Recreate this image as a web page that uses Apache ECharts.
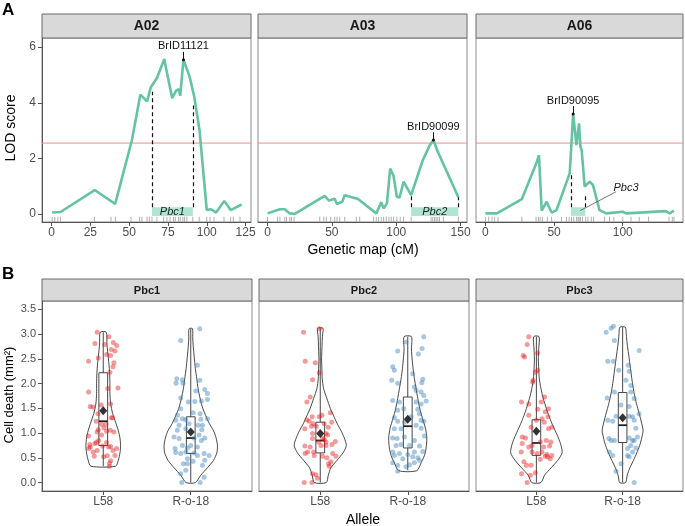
<!DOCTYPE html>
<html><head><meta charset="utf-8">
<script src="https://cdn.jsdelivr.net/npm/echarts@6/dist/echarts.min.js"></script>
<style>html,body{margin:0;padding:0;background:#fff}#c{width:685px;height:526px}</style>
</head><body><div id="c"></div>
<script>
// ---------- Panel A data ----------
const chromosomes = ['A02', 'A03', 'A06'];
const lodA02 = [[0.4,0.05],[5.8,0.07],[27.8,0.86],[41,0.36],[51.8,2.66],[57.2,4.29],[61.5,4.05],[64,4.56],[67.9,4.89],[72.6,5.57],[77.7,4.17],[80.3,4.44],[82,4.49],[82.9,4.25],[85,5.55],[88.9,4.95],[91.9,4.23],[95.3,3.03],[100,0.14],[102.6,0.17],[106,0.05],[111.3,0.47],[115.4,0.14],[122.5,0.34]];
const lodA03 = [[0,0.02],[9.6,0.17],[13.4,0.17],[17.3,0.02],[21.2,0],[44.4,0.65],[47.8,0.48],[52.2,0.55],[54,0.36],[58.1,0.44],[59.9,0.67],[70.3,0.54],[84.5,0.02],[88.4,0.42],[90.2,0.2],[92.8,0.38],[95.3,1.63],[97.9,1.37],[100.5,0.62],[102.6,0.59],[105.7,1.16],[111.6,0.68],[120.7,1.94],[125.8,2.45],[128.9,2.66],[132.3,2.24],[148.3,0.6]];
const lodA06 = [[0,0.02],[8.4,0.02],[26.5,0.53],[37.3,1.85],[39,2.12],[41,0.12],[44.6,0.44],[48.2,0.05],[51.8,0.14],[61.4,1.46],[63.9,3.6],[66.3,2.48],[68.2,3.26],[69.2,2.42],[70.1,2.3],[72.3,0.98],[75.9,1.16],[78.3,1.04],[83.1,0.14],[88,0.02],[100,0.08],[102.4,0.02],[131.3,0.1],[134.2,0.02],[137.3,0.12]];
const rugA02 = [0.4,2.1,4.1,5.8,27.6,38.3,41.1,51.2,56.7,58.2,61.5,63,64.7,67.9,72.2,74.3,76.4,78.6,79.7,81.8,82.9,84.6,85.7,87.2,91,95.1,100,102.1,104.7,111.1,115.4,117.1,121.4];
const rugA03 = [0,7.8,9.6,13.4,14.7,17.3,18.6,20.7,40.6,43.7,45.7,49.1,52.2,54,56.1,60,69,71.6,82.4,84.5,86.3,88.4,90.2,92.2,94.3,96.1,97.9,100.5,103.1,105.7,111.6,127.1,128.4,129.7,131,132.3,133.6,136.7,148.3];
const rugA06 = [0,2.4,4.8,6.7,9.2,26.5,36.9,38.6,39.8,41.4,45.1,48.2,55.4,59,61,62.7,64.3,66.3,67.5,68.2,69.2,70.6,73,74.7,77.1,78.8,86.7,90.4,93.5,100,106,112,118.8,133.7,136.1,137.3];
const lodThreshold = 2.55;
const peakNames = ['BrID11121', 'BrID90099', 'BrID90095'];
const peakPos = [[85, 5.55], [128.9, 2.66], [63.9, 3.6]];
const qtlNames = ['Pbc1', 'Pbc2', 'Pbc3'];
const qtlStart = [64.7, 111.6, 62.2];
const qtlEnd = [91, 148.3, 72.8];
const qtlStartLod = [4.4, 0.68, 1.5];
const qtlEndLod = [3.9, 0.6, 0.7];
const xMaxA = [128.5, 155, 143.9];
const xMinA = [-6.15, -7.4, -6.85];
const xTicksA = [[0,25,50,75,100,125],[0,50,100,150],[0,50,100]];
const yTicksA = [0,2,4,6];

// ---------- Panel B data ----------
const alleles = ['L58', 'R-o-18'];
const yTicksB = [0,0.5,1,1.5,2,2.5,3,3.5];
// jittered points [x position, cell death]
const ptsPbc1L = [[0.931,3.04],[1.065,2.95],[0.905,2.81],[1.015,2.79],[1.115,2.83],[1.153,2.77],[1.092,2.69],[1.134,2.66],[0.943,2.52],[1.084,2.57],[1.038,2.59],[0.832,2.45],[1.122,2.42],[1.111,2.34],[1.076,2.23],[1.053,1.90],[0.832,1.83],[1.168,1.91],[0.882,1.53],[0.977,1.57],[0.851,1.54],[1.084,1.59],[0.939,1.39],[0.920,1.24],[1.092,1.31],[1.107,1.31],[0.981,1.18],[1.008,1.11],[0.943,1.07],[1.031,1.18],[0.931,1.02],[1.038,1.04],[1.080,1.06],[0.832,0.94],[0.981,0.96],[1.122,1.02],[0.947,0.85],[0.851,0.72],[0.836,0.69],[0.847,0.77],[0.905,0.79],[0.920,0.81],[1.038,0.81],[1.061,0.72],[1.084,0.73],[0.992,0.74],[0.931,0.65],[1.111,0.65],[1.153,0.69],[1.046,0.54],[1.134,0.55],[0.897,0.53],[1.084,0.44],[1.073,0.39],[1.069,0.33],[1.004,0.52],[0.885,0.62]];
const ptsPbc1R = [[1.885,2.87],[2.103,3.11],[2.076,2.37],[1.840,2.10],[1.905,2.08],[1.832,2.01],[1.912,2.01],[2.103,2.07],[1.885,1.71],[2.160,1.88],[2.191,1.80],[2.057,1.85],[2.191,1.68],[2.122,1.65],[2.046,1.64],[1.973,1.63],[2.107,1.39],[1.847,1.36],[2.027,1.41],[2.191,1.29],[1.828,1.26],[1.905,1.29],[1.943,1.27],[2.115,1.28],[1.866,1.16],[2.084,1.16],[2.134,1.16],[1.847,1.06],[1.943,1.09],[2.126,1.07],[1.809,0.92],[1.866,0.89],[2.038,0.90],[2.160,0.90],[2.122,0.85],[1.905,0.75],[1.962,0.70],[2.076,0.72],[1.821,0.69],[1.828,0.61],[1.885,0.59],[1.943,0.62],[2.038,0.60],[2.153,0.59],[2.210,0.55],[2.076,0.55],[1.962,0.48],[1.916,0.38],[1.962,0.38],[2.134,0.35],[2.160,0.45],[1.885,0.18],[1.943,0.25],[2.153,0.11],[1.897,0.00],[2.107,0.00],[2.027,0.43],[2.000,0.75],[2.095,0.96],[1.981,1.19],[1.885,1.49]];
const ptsPbc2L = [[0.809,3.04],[0.992,3.11],[0.828,2.45],[0.943,2.42],[0.989,2.22],[0.912,2.08],[0.885,1.73],[0.847,1.63],[0.908,1.33],[0.989,1.33],[1.019,1.36],[1.115,1.41],[0.920,1.19],[0.847,1.27],[0.874,1.24],[1.130,1.22],[0.824,1.09],[0.901,1.14],[0.954,1.14],[1.046,1.19],[1.092,1.12],[0.912,0.99],[1.065,0.99],[1.084,0.96],[0.912,0.89],[1.027,0.90],[1.046,0.87],[0.981,0.82],[1.065,0.82],[1.172,0.83],[0.824,0.74],[0.885,0.72],[1.065,0.75],[1.134,0.77],[0.828,0.59],[0.855,0.62],[0.924,0.62],[1.141,0.59],[1.179,0.53],[1.027,0.53],[0.931,0.55],[1.122,0.42],[1.095,0.38],[1.103,0.33],[0.912,0.18],[0.950,0.16],[0.969,0.09],[0.817,0.00],[0.905,0.00],[1.076,0.50],[1.008,0.75]];
const ptsPbc2R = [[2.183,2.95],[1.981,2.84],[2.164,2.71],[2.122,2.60],[1.885,2.66],[1.828,2.34],[1.847,2.27],[2.057,2.20],[1.817,2.07],[1.885,2.01],[2.172,2.09],[2.160,2.02],[2.076,1.93],[2.095,1.86],[2.153,1.83],[2.183,1.76],[1.828,1.66],[1.905,1.63],[2.095,1.63],[2.153,1.59],[2.210,1.65],[1.885,1.46],[1.954,1.49],[2.115,1.48],[2.134,1.39],[1.847,1.31],[2.038,1.33],[2.183,1.24],[2.153,1.26],[1.885,1.24],[1.962,1.22],[2.095,1.16],[1.847,1.09],[1.924,1.09],[2.153,1.10],[1.828,0.90],[1.878,0.89],[1.962,0.92],[2.076,0.85],[2.191,0.94],[1.866,0.75],[1.924,0.77],[2.019,0.75],[2.134,0.74],[1.828,0.62],[1.905,0.59],[2.000,0.57],[2.076,0.62],[2.172,0.63],[1.847,0.55],[1.943,0.48],[2.057,0.52],[2.115,0.50],[1.828,0.40],[1.885,0.35],[1.981,0.32],[2.076,0.40],[2.134,0.45],[1.885,0.23],[2.019,0.36]];
const ptsPbc3L = [[0.912,2.95],[0.893,2.79],[0.847,2.57],[0.863,2.54],[1.015,2.62],[1.015,2.27],[0.989,2.23],[0.962,2.07],[0.958,2.03],[0.828,1.63],[0.912,1.59],[1.095,1.73],[1.057,1.63],[1.015,1.48],[1.141,1.49],[1.103,1.43],[0.912,1.36],[1.000,1.26],[1.065,1.29],[1.134,1.33],[1.092,1.22],[1.179,1.12],[1.141,1.09],[0.939,1.12],[0.836,0.92],[0.874,0.90],[0.836,0.79],[1.046,0.82],[1.115,0.85],[1.168,0.82],[0.950,0.75],[0.912,0.72],[1.084,0.72],[1.153,0.74],[0.824,0.62],[0.950,0.62],[1.008,0.59],[1.065,0.62],[1.122,0.57],[1.179,0.55],[0.855,0.42],[0.885,0.35],[0.939,0.35],[1.046,0.47],[1.130,0.52],[1.160,0.48],[0.828,0.18],[0.931,0.15],[0.989,0.20],[0.893,0.00],[1.103,0.53]];
const ptsPbc3R = [[1.809,3.04],[1.866,3.12],[1.893,3.16],[1.905,2.87],[2.191,2.67],[1.828,2.45],[1.893,2.45],[2.065,2.37],[1.954,2.27],[2.076,2.25],[2.038,2.07],[2.095,1.96],[1.905,1.83],[1.821,1.71],[2.095,1.83],[2.134,1.70],[1.981,1.57],[2.076,1.54],[2.191,1.39],[1.924,1.34],[2.076,1.34],[2.115,1.33],[2.134,1.26],[1.828,1.26],[1.885,1.24],[2.153,1.10],[1.840,0.89],[1.866,0.85],[1.905,0.85],[2.076,0.90],[2.115,0.85],[2.134,0.85],[2.172,0.92],[1.847,0.62],[1.885,0.55],[2.057,0.55],[2.076,0.52],[2.115,0.62],[2.153,0.70],[2.095,0.75],[1.981,0.38],[1.924,0.23],[2.134,0.00],[2.057,0.69]];
// violin density outline: [cell death, half width]
const vioPbc1L = [[0.33,0.141],[0.45,0.172],[0.6,0.191],[0.75,0.198],[0.9,0.191],[1.05,0.172],[1.2,0.145],[1.4,0.107],[1.6,0.084],[1.8,0.076],[2.0,0.076],[2.2,0.073],[2.4,0.065],[2.6,0.053],[2.8,0.042],[3.04,0.034]];
const vioPbc1R = [[0,0.053],[0.15,0.115],[0.3,0.191],[0.45,0.26],[0.6,0.298],[0.75,0.305],[0.9,0.29],[1.05,0.26],[1.2,0.21],[1.35,0.172],[1.5,0.137],[1.7,0.107],[1.9,0.084],[2.1,0.069],[2.3,0.053],[2.5,0.042],[2.7,0.031],[2.9,0.023],[3.11,0.019]];
const vioPbc2L = [[0,0.069],[0.15,0.092],[0.3,0.122],[0.45,0.191],[0.6,0.26],[0.75,0.298],[0.9,0.275],[1.05,0.237],[1.2,0.191],[1.35,0.153],[1.5,0.115],[1.7,0.076],[1.9,0.038],[2.1,0.023],[2.3,0.019],[2.5,0.015],[2.7,0.019],[2.9,0.023],[3.0,0.027],[3.12,0.031]];
const vioPbc2R = [[0.24,0.103],[0.4,0.153],[0.55,0.191],[0.7,0.21],[0.9,0.218],[1.1,0.202],[1.3,0.168],[1.5,0.137],[1.7,0.115],[1.9,0.095],[2.1,0.076],[2.3,0.061],[2.5,0.05],[2.7,0.042],[2.95,0.042]];
const vioPbc3L = [[0,0.053],[0.15,0.095],[0.3,0.172],[0.45,0.248],[0.6,0.298],[0.75,0.286],[0.9,0.256],[1.05,0.218],[1.2,0.179],[1.35,0.145],[1.5,0.115],[1.7,0.08],[1.9,0.053],[2.1,0.034],[2.3,0.027],[2.5,0.023],[2.7,0.027],[2.95,0.031]];
const vioPbc3R = [[0,0.034],[0.15,0.053],[0.3,0.084],[0.45,0.126],[0.6,0.164],[0.75,0.198],[0.9,0.221],[1.05,0.237],[1.2,0.221],[1.4,0.191],[1.6,0.16],[1.8,0.134],[2.0,0.115],[2.2,0.099],[2.4,0.084],[2.6,0.069],[2.8,0.053],[3.0,0.042],[3.14,0.031]];
// box stats [min, q1, median, q3, max], means
const boxPbc1 = [[0.33,0.75,1.24,2.22,3.04],[0,0.59,0.90,1.33,3.11]];
const boxPbc2 = [[0,0.60,0.85,1.22,3.12],[0.25,0.70,1.14,1.73,2.95]];
const boxPbc3 = [[0,0.55,0.80,1.27,2.95],[0,0.81,1.16,1.82,3.14]];
const meanPbc1 = [1.45, 1.02];
const meanPbc2 = [0.99, 1.28];
const meanPbc3 = [1.04, 1.31];

// ---------- build ----------
const lods = [lodA02, lodA03, lodA06];
const rugs = [rugA02, rugA03, rugA06];
const pts = [[ptsPbc1L, ptsPbc1R], [ptsPbc2L, ptsPbc2R], [ptsPbc3L, ptsPbc3R]];
const vios = [[vioPbc1L, vioPbc1R], [vioPbc2L, vioPbc2R], [vioPbc3L, vioPbc3R]];
const boxes = [boxPbc1, boxPbc2, boxPbc3];
const means = [meanPbc1, meanPbc2, meanPbc3];

const FONT = '"Liberation Sans", Arial, sans-serif';
const LINE = '#66C2A5';
const topL = [42, 258, 476], topW = [209, 209, 207];
const botL = [42, 259, 476], botW = [210, 210, 207];

const grid = [], xAxis = [], yAxis = [], series = [], graphic = [];
for (let i = 0; i < 3; i++) {
  grid.push({left: topL[i], top: 38, width: topW[i], height: 184, show: true, borderColor: '#8a8a8a', borderWidth: 1, containLabel: false});
}
for (let i = 0; i < 3; i++) {
  grid.push({left: botL[i], top: 301, width: botW[i], height: 190, show: true, borderColor: '#8a8a8a', borderWidth: 1, containLabel: false});
}
const axLabel = (sz) => ({color: '#4D4D4D', fontSize: sz, fontFamily: FONT});
for (let i = 0; i < 3; i++) {
  xAxis.push({type: 'value', gridIndex: i, min: xMinA[i], max: xMaxA[i],
    axisLine: {show: true, onZero: false, lineStyle: {color: '#555', width: 1}},
    axisTick: {show: true, length: 4, lineStyle: {color: '#555'}, customValues: xTicksA[i]},
    axisLabel: Object.assign(axLabel(12), {margin: 5, customValues: xTicksA[i]}),
    splitLine: {show: false}});
  yAxis.push({type: 'value', gridIndex: i, min: -0.29, max: 6.33,
    axisLine: {show: i === 0, onZero: false, lineStyle: {color: '#555', width: 1}},
    axisTick: {show: i === 0, length: 4, lineStyle: {color: '#555'}, customValues: yTicksA},
    axisLabel: Object.assign(axLabel(12), {show: i === 0, margin: 6, customValues: yTicksA}),
    splitLine: {show: false}});
}
for (let j = 0; j < 3; j++) {
  xAxis.push({type: 'value', gridIndex: 3 + j, min: 0.3, max: 2.7,
    axisLine: {show: true, onZero: false, lineStyle: {color: '#555', width: 1}},
    axisTick: {show: true, length: 4, lineStyle: {color: '#555'}, customValues: [1, 2]},
    axisLabel: Object.assign(axLabel(12), {margin: 5, customValues: [1, 2], formatter: v => alleles[Math.round(v) - 1]}),
    splitLine: {show: false}});
  yAxis.push({type: 'value', gridIndex: 3 + j, min: -0.17, max: 3.67,
    axisLine: {show: j === 0, onZero: false, lineStyle: {color: '#555', width: 1}},
    axisTick: {show: j === 0, length: 4, lineStyle: {color: '#555'}, customValues: yTicksB},
    axisLabel: Object.assign(axLabel(11), {show: j === 0, margin: 6, customValues: yTicksB, formatter: v => v.toFixed(1)}),
    splitLine: {show: false}});
}

// Panel A series
for (let i = 0; i < 3; i++) {
  // LOD significance threshold, spanning the panel
  series.push({
    type: 'line', xAxisIndex: i, yAxisIndex: i, data: [[xMinA[i], lodThreshold], [xMaxA[i], lodThreshold]],
    symbol: 'none', silent: true, animation: false, z: 4,
    lineStyle: {color: '#F08C86', width: 1, type: 'solid'}, itemStyle: {color: '#F08C86'}
  });
  const dashStyle = {color: '#111', type: [4, 3], width: 1.2};
  const ml = [
    [{coord: [qtlStart[i], 0.24], lineStyle: dashStyle, label: {show: false}}, {coord: [qtlStart[i], qtlStartLod[i]]}],
    [{coord: [qtlEnd[i], 0.24], lineStyle: dashStyle, label: {show: false}}, {coord: [qtlEnd[i], qtlEndLod[i]]}],
    [{coord: peakPos[i], symbol: 'circle', symbolSize: 3, lineStyle: {color: '#111', width: 1, type: 'solid'},
      label: {show: true, position: 'end', formatter: peakNames[i], color: '#111', fontSize: 11, fontFamily: FONT, distance: 0}},
     {coord: [peakPos[i][0], peakPos[i][1] + 0.28], symbol: 'none'}]
  ];
  const markPoint = {data: []};
  if (i === 2) {
    ml.push([{coord: [(qtlStart[i] + qtlEnd[i]) / 2 + 1.5, 0.12], lineStyle: {color: '#555', width: 0.8, type: 'solid'}, label: {show: false}},
             {coord: [95.2, 0.8]}]);
    markPoint.data.push({coord: [102.4, 0.93], symbol: 'circle', symbolSize: 0,
      label: {show: true, position: 'inside', formatter: qtlNames[i], fontStyle: 'italic', fontSize: 11, color: '#222', fontFamily: FONT}});
  }
  series.push({
    type: 'line', xAxisIndex: i, yAxisIndex: i, data: lods[i], symbol: 'none', z: 5,
    lineStyle: {color: LINE, width: 2.6}, itemStyle: {color: '#111'}, silent: true, animation: false,
    markLine: {silent: true, symbol: ['none', 'none'], animation: false, data: ml, z: 6,
      lineStyle: {color: '#111'}, emphasis: {disabled: true}},
    markArea: {silent: true, animation: false, data: [[
      {coord: [qtlStart[i], -0.07], itemStyle: {color: 'rgba(150,220,195,0.75)'},
       label: {show: i !== 2, position: 'inside', formatter: qtlNames[i], fontStyle: 'italic', fontSize: 11, color: '#222', fontFamily: FONT}},
      {coord: [qtlEnd[i], 0.24]}]]},
    markPoint: Object.assign(markPoint, {silent: true, animation: false})
  });
  series.push({
    type: 'scatter', xAxisIndex: i, yAxisIndex: i, data: rugs[i].map(x => [x, -0.19]),
    symbol: 'rect', symbolSize: [1, 5], itemStyle: {color: '#9a9a9a'}, silent: true, animation: false, z: 2
  });
}

// Panel B series
const PTCOL = ['rgba(228,26,28,0.55)', 'rgba(55,126,184,0.55)'];
for (let j = 0; j < 3; j++) {
  const ax = 3 + j;
  series.push({
    type: 'custom', xAxisIndex: ax, yAxisIndex: ax, data: [[1, 1], [2, 1]], silent: true, animation: false, z: 1,
    renderItem: (params, api) => {
      const g = params.dataIndex, c = g + 1, prof = vios[j][g];
      const left = prof.map(p => api.coord([c - p[1], p[0]]));
      const right = prof.slice().reverse().map(p => api.coord([c + p[1], p[0]]));
      return {type: 'polygon', shape: {points: left.concat(right), smooth: 0.25},
        style: {fill: 'rgba(255,255,255,0)', stroke: '#333', lineWidth: 0.9}};
    }
  });
  series.push({
    type: 'custom', xAxisIndex: ax, yAxisIndex: ax, data: [[1, 1], [2, 1]], silent: true, animation: false, z: 2,
    renderItem: (params, api) => {
      const g = params.dataIndex, c = g + 1, b = boxes[j][g], hw = 0.05;
      const p = (x, y) => api.coord([x, y]);
      const tl = p(c - hw, b[3]), br = p(c + hw, b[1]);
      const st = {stroke: '#333', lineWidth: 0.9, fill: 'none'};
      return {type: 'group', children: [
        {type: 'line', shape: {x1: p(c, b[0])[0], y1: p(c, b[0])[1], x2: p(c, b[1])[0], y2: p(c, b[1])[1]}, style: st},
        {type: 'line', shape: {x1: p(c, b[3])[0], y1: p(c, b[3])[1], x2: p(c, b[4])[0], y2: p(c, b[4])[1]}, style: st},
        {type: 'rect', shape: {x: tl[0], y: tl[1], width: br[0] - tl[0], height: br[1] - tl[1]}, style: {stroke: '#333', lineWidth: 0.9, fill: 'rgba(255,255,255,0)'}},
        {type: 'line', shape: {x1: tl[0], y1: p(c, b[2])[1], x2: br[0], y2: p(c, b[2])[1]}, style: {stroke: '#222', lineWidth: 1.8}}
      ]};
    }
  });
  for (let g = 0; g < 2; g++) {
    series.push({type: 'scatter', xAxisIndex: ax, yAxisIndex: ax, data: pts[j][g], symbolSize: 5,
      itemStyle: {color: PTCOL[g]}, silent: true, animation: false, z: 3});
  }
  series.push({type: 'scatter', xAxisIndex: ax, yAxisIndex: ax, data: means[j].map((m, g) => [g + 1, m]),
    symbol: 'diamond', symbolSize: [8, 9], itemStyle: {color: '#000'}, silent: true, animation: false, z: 4});
}

// strips and titles
const stripTitles = ['A02', 'A03', 'A06'];
const stripB = ['Pbc1', 'Pbc2', 'Pbc3'];
for (let i = 0; i < 3; i++) {
  graphic.push({type: 'rect', shape: {x: topL[i], y: 14, width: topW[i], height: 24}, style: {fill: '#D9D9D9', stroke: '#6a6a6a', lineWidth: 1}});
  graphic.push({type: 'text', x: topL[i] + topW[i] / 2, y: 26.5, style: {text: stripTitles[i], fill: '#1A1A1A', font: 'bold 14px ' + FONT, align: 'center', verticalAlign: 'middle'}});
  graphic.push({type: 'rect', shape: {x: botL[i], y: 279, width: botW[i], height: 22}, style: {fill: '#D9D9D9', stroke: '#6a6a6a', lineWidth: 1}});
  graphic.push({type: 'text', x: botL[i] + botW[i] / 2, y: 290.5, style: {text: stripB[i], fill: '#1A1A1A', font: 'bold 11px ' + FONT, align: 'center', verticalAlign: 'middle'}});
}
graphic.push({type: 'text', x: 2, y: 2, style: {text: 'A', fill: '#000', font: 'bold 17px ' + FONT}});
graphic.push({type: 'text', x: 2, y: 266, style: {text: 'B', fill: '#000', font: 'bold 17px ' + FONT}});
graphic.push({type: 'text', x: 11, y: 128, rotation: Math.PI / 2, style: {text: 'LOD score', fill: '#000', font: '14px ' + FONT, align: 'center', verticalAlign: 'middle'}});
graphic.push({type: 'text', x: 363, y: 250, style: {text: 'Genetic map (cM)', fill: '#000', font: '14px ' + FONT, align: 'center', verticalAlign: 'middle'}});
graphic.push({type: 'text', x: 9, y: 395, rotation: Math.PI / 2, style: {text: 'Cell death (mm²)', fill: '#000', font: '13px ' + FONT, align: 'center', verticalAlign: 'middle'}});
graphic.push({type: 'text', x: 363, y: 520, style: {text: 'Allele', fill: '#000', font: '14px ' + FONT, align: 'center', verticalAlign: 'middle'}});

const chart = echarts.init(document.getElementById('c'), null, {renderer: 'canvas'});
chart.setOption({backgroundColor: '#fff', animation: false, grid, xAxis, yAxis, series, graphic});
</script></body></html>
